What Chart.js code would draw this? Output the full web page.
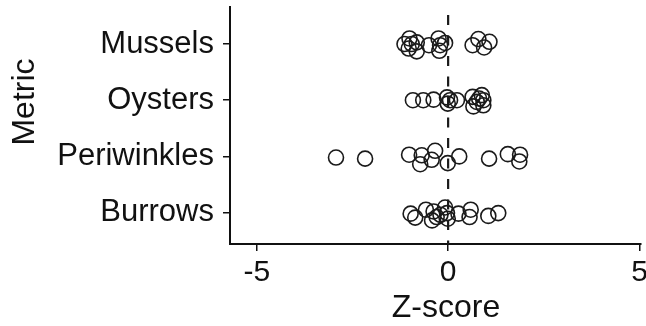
<!DOCTYPE html>
<html>
<head>
<meta charset="utf-8">
<script src="https://cdn.jsdelivr.net/npm/chart.js@4/dist/chart.umd.min.js"></script>
<style>
  html, body { margin: 0; padding: 0; background: #fff; }
  #wrap { width: 646px; height: 326px; position: relative; }
</style>
</head>
<body>
<div id="wrap"><canvas id="chart"></canvas></div>
<script>
// categories, bottom to top (y position 1..4)
const categories = ['Burrows', 'Periwinkles', 'Oysters', 'Mussels'];
const xTicks = [-5, 0, 5];

// z-scores, with the vertical jitter of each point
const musselsX = [-1.14, -1.01, -1.03, -0.82, -0.82, -0.95, -0.50, -0.25, -0.21, -0.23, -0.08, 0.64, 0.79, 0.94, 1.08];
const musselsY = [4.00, 4.10, 3.92, 4.03, 3.87, 4.00, 3.98, 4.10, 3.98, 3.88, 4.02, 3.98, 4.09, 3.94, 4.04];

const oystersX = [-0.92, -0.65, -0.38, -0.03, -0.01, 0.05, 0.23, 0.64, 0.66, 0.88, 0.92, 0.92, 0.75, 0.81];
const oystersY = [3.00, 3.00, 3.01, 3.05, 2.94, 3.00, 3.00, 3.06, 2.89, 3.09, 3.00, 2.91, 2.97, 3.03];

const periwinklesX = [-2.93, -2.17, -1.02, -0.73, -0.69, -0.43, -0.34, -0.01, 0.29, 1.07, 1.56, 1.88, 1.86];
const periwinklesY = [1.98, 1.96, 2.03, 1.86, 2.02, 1.94, 2.10, 1.88, 2.00, 1.96, 2.04, 2.03, 1.91];

const burrowsX = [-0.98, -0.86, -0.58, -0.38, -0.30, -0.42, -0.08, -0.01, -0.03, 0.27, 0.59, 0.56, 1.05, 1.31, -0.20];
const burrowsY = [0.98, 0.91, 1.05, 1.02, 0.92, 0.86, 1.09, 0.89, 0.99, 0.98, 1.05, 0.92, 0.94, 0.99, 0.96];

const FONT = 'Liberation Sans, Arial, Helvetica, sans-serif';
const INK = '#111';

function toPoints(xs, ys) {
  return xs.map((x, i) => ({ x: x, y: ys[i] }));
}

function series(label, xs, ys) {
  return {
    label: label,
    data: toPoints(xs, ys),
    pointStyle: 'circle',
    pointRadius: 7.5,
    pointHoverRadius: 7.5,
    pointBorderWidth: 1.6,
    pointBorderColor: '#1a1a1a',
    pointBackgroundColor: 'rgba(0,0,0,0)',
  };
}

// dashed reference line at z = 0 plus the two axis titles
const extras = {
  id: 'extras',
  beforeDatasetsDraw(chart) {
    const { ctx, chartArea, scales } = chart;
    const x0 = scales.x.getPixelForValue(0);
    ctx.save();
    ctx.strokeStyle = '#1a1a1a';
    ctx.lineWidth = 2.2;
    ctx.setLineDash([10, 10.5]);
    ctx.lineDashOffset = -8;
    ctx.beginPath();
    ctx.moveTo(x0, chartArea.top);
    ctx.lineTo(x0, chartArea.bottom);
    ctx.stroke();
    ctx.restore();
  },
  afterDraw(chart) {
    const { ctx } = chart;
    ctx.save();
    ctx.fillStyle = INK;
    ctx.font = '32px ' + FONT;
    ctx.textAlign = 'center';
    ctx.textBaseline = 'middle';
    ctx.fillText('Z-score', 446, 308);
    ctx.translate(25, 102);
    ctx.rotate(-Math.PI / 2);
    ctx.fillText('Metric', 0, 0);
    ctx.restore();
  },
};

new Chart(document.getElementById('chart'), {
  type: 'scatter',
  data: {
    datasets: [
      series('Mussels', musselsX, musselsY),
      series('Oysters', oystersX, oystersY),
      series('Periwinkles', periwinklesX, periwinklesY),
      series('Burrows', burrowsX, burrowsY),
    ],
  },
  options: {
    responsive: true,
    maintainAspectRatio: false,
    animation: false,
    layout: { autoPadding: false, padding: { top: 7, right: 5, left: 0, bottom: 0 } },
    plugins: {
      legend: { display: false },
      tooltip: { enabled: false },
    },
    scales: {
      x: {
        type: 'linear',
        min: -5.7,
        max: 5.04,
        afterBuildTicks: (scale) => { scale.ticks = xTicks.map((v) => ({ value: v })); },
        afterFit: (scale) => {
          scale.height = 82;
          scale.paddingLeft = 0;
          scale.paddingRight = 0;
        },
        border: { display: true, color: INK, width: 2 },
        grid: { drawOnChartArea: false, drawTicks: true, tickLength: 7, color: INK, lineWidth: 1.5 },
        ticks: { color: INK, padding: 4, font: { family: FONT, size: 30 }, maxRotation: 0 },
      },
      y: {
        type: 'linear',
        min: 0.44,
        max: 4.66,
        afterBuildTicks: (scale) => { scale.ticks = [1, 2, 3, 4].map((v) => ({ value: v })); },
        afterFit: (scale) => {
          scale.width = 230;
          scale.paddingTop = 0;
          scale.paddingBottom = 0;
        },
        border: { display: true, color: INK, width: 2 },
        grid: { drawOnChartArea: false, drawTicks: true, tickLength: 7, color: INK, lineWidth: 1.5 },
        ticks: {
          color: INK,
          padding: 9,
          font: { family: FONT, size: 31 },
          callback: (v) => categories[v - 1],
        },
      },
    },
  },
  plugins: [extras],
});
</script>
</body>
</html>
